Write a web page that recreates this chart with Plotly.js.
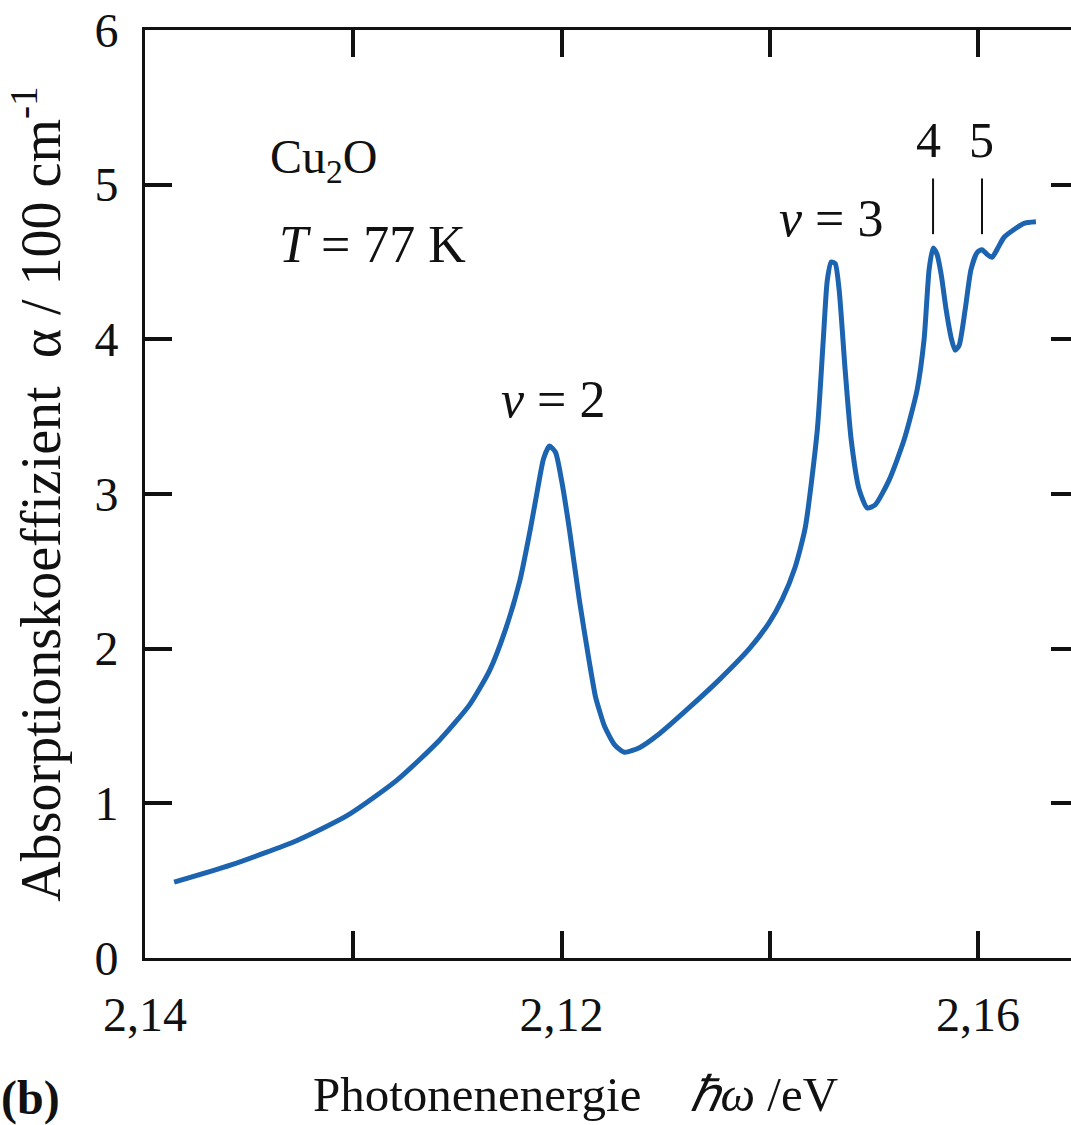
<!DOCTYPE html>
<html>
<head>
<meta charset="utf-8">
<script src="https://cdn.plot.ly/plotly-3.0.1.min.js"></script>
<style>
  html, body { margin: 0; padding: 0; overflow: hidden; background: #fff; }
  #chart { width: 1080px; height: 1125px; }
</style>
</head>
<body>
<div id="chart"></div>
<script>
// Absorption spectrum of Cu2O at 77 K: yellow exciton series (nu = 2, 3, 4, 5)
const energy = [
  2.1414, 2.1441, 2.1473, 2.1497, 2.1521, 2.15415, 2.1556, 2.15655, 2.1573, 2.1580,
  2.1585, 2.15885, 2.15914, 2.15942, 2.15971, 2.16000, 2.16038, 2.16086, 2.16134, 2.16163,
  2.16182, 2.16206, 2.16254, 2.16302, 2.16374, 2.16470, 2.16614, 2.16758, 2.16902, 2.16998,
  2.17060, 2.17120, 2.17170, 2.17228, 2.17257, 2.17276, 2.17295, 2.17314, 2.17333, 2.17362,
  2.17391, 2.17429, 2.17468, 2.17506, 2.17573, 2.17645, 2.17707, 2.17741, 2.17765, 2.17784,
  2.17803, 2.17823, 2.17847, 2.17871, 2.17890, 2.17909, 2.17938, 2.17966, 2.17995, 2.18019,
  2.18043, 2.18067, 2.18091, 2.18125, 2.18173, 2.18221, 2.18278
];
const alpha = [
  0.49, 0.60, 0.76, 0.92, 1.15, 1.41, 1.64, 1.86, 2.12, 2.44,
  2.77, 3.03, 3.23, 3.31, 3.27, 3.09, 2.77, 2.31, 1.91, 1.69,
  1.60, 1.50, 1.38, 1.33, 1.36, 1.45, 1.62, 1.80, 2.00, 2.17,
  2.32, 2.52, 2.78, 3.41, 4.00, 4.38, 4.50, 4.49, 4.32, 3.80,
  3.35, 3.03, 2.91, 2.93, 3.09, 3.35, 3.67, 4.00, 4.45, 4.59,
  4.55, 4.42, 4.19, 4.01, 3.93, 3.96, 4.19, 4.45, 4.56, 4.58,
  4.55, 4.53, 4.58, 4.66, 4.71, 4.75, 4.76
];

// axis ticks as printed on the energy axis
const xTickVals = [2.14, 2.15, 2.16, 2.17, 2.18];
const xTickText = ["2,14", " ", "2,12", " ", "2,16"];
const yTickVals = [0, 1, 2, 3, 4, 5, 6];

// exciton line markers (nu = 4, 5)
const markerLabels = ["4", "5"];
const markerEnergy = [2.17784, 2.18019];

const serif = "'Liberation Serif', 'Times New Roman', Times, serif";
const ink = "#111";

const trace = {
  x: energy,
  y: alpha,
  type: "scatter",
  mode: "lines",
  line: { color: "#1c64b0", width: 5, shape: "spline", smoothing: 0.6 },
  hoverinfo: "skip"
};

const annotations = [
  { x: 2.1459, y: 5.16, xref: "x", yref: "y", text: "Cu<sub>2</sub>O",
    showarrow: false, xanchor: "left", yanchor: "middle", font: { family: serif, size: 48, color: ink } },
  { x: 2.14633, y: 4.61, xref: "x", yref: "y", text: "<i>T</i> = 77 K",
    showarrow: false, xanchor: "left", yanchor: "middle", font: { family: serif, size: 52, color: ink } },
  { x: 2.15957, y: 3.61, xref: "x", yref: "y", text: "<i>ν</i> = 2",
    showarrow: false, xanchor: "center", yanchor: "middle", font: { family: serif, size: 52, color: ink } },
  { x: 2.17295, y: 4.78, xref: "x", yref: "y", text: "<i>ν</i> = 3",
    showarrow: false, xanchor: "center", yanchor: "middle", font: { family: serif, size: 52, color: ink } }
];

markerLabels.forEach((lab, i) => {
  annotations.push({
    x: markerEnergy[i] - (i === 0 ? 0.0002 : 0), y: 5.29, xref: "x", yref: "y", text: lab,
    showarrow: false, xanchor: "center", yanchor: "middle",
    font: { family: serif, size: 50, color: ink }
  });
});

// energy axis title, set slightly left of the plot centre
annotations.push({
  x: 0.461, y: -0.1466, xref: "paper", yref: "paper",
  text: "Photonenenergie&nbsp;&nbsp;&nbsp;&nbsp;<i>ℏω</i> /eV",
  showarrow: false, xanchor: "center", yanchor: "middle",
  font: { family: serif, size: 49, color: ink }
});

// panel label
annotations.push({
  x: -0.157, y: -0.151, xref: "paper", yref: "paper", text: "<b>(b)</b>",
  showarrow: false, xanchor: "left", yanchor: "middle",
  font: { family: serif, size: 48, color: ink }
});

const shapes = markerEnergy.map(e => ({
  type: "line", xref: "x", yref: "y",
  x0: e, x1: e, y0: 4.68, y1: 5.04,
  line: { color: ink, width: 2 }
}));

const axisCommon = {
  showline: true, linecolor: ink, linewidth: 3, mirror: "ticks",
  ticks: "inside", ticklen: 27, tickwidth: 4, tickcolor: ink,
  showgrid: false, zeroline: false,
  tickfont: { family: serif, size: 48, color: ink }
};

const layout = {
  width: 1080, height: 1125,
  margin: { l: 145, r: 2, t: 30, b: 167 },
  paper_bgcolor: "#fff", plot_bgcolor: "#fff",
  showlegend: false,
  font: { family: serif, color: ink },
  xaxis: Object.assign({}, axisCommon, {
    range: [2.14, 2.1848],
    tickmode: "array", tickvals: xTickVals, ticktext: xTickText,
    ticklabelstandoff: 12
  }),
  yaxis: Object.assign({}, axisCommon, {
    range: [0, 6],
    tickmode: "array", tickvals: yTickVals,
    ticklabelstandoff: 14,
    title: { text: "Absorptionskoeffizient  α / 100 cm<sup>-1</sup>", font: { family: serif, size: 56, color: ink }, standoff: 16 }
  }),
  annotations: annotations,
  shapes: shapes
};

Plotly.newPlot("chart", [trace], layout, { staticPlot: true, displayModeBar: false });
</script>
</body>
</html>
